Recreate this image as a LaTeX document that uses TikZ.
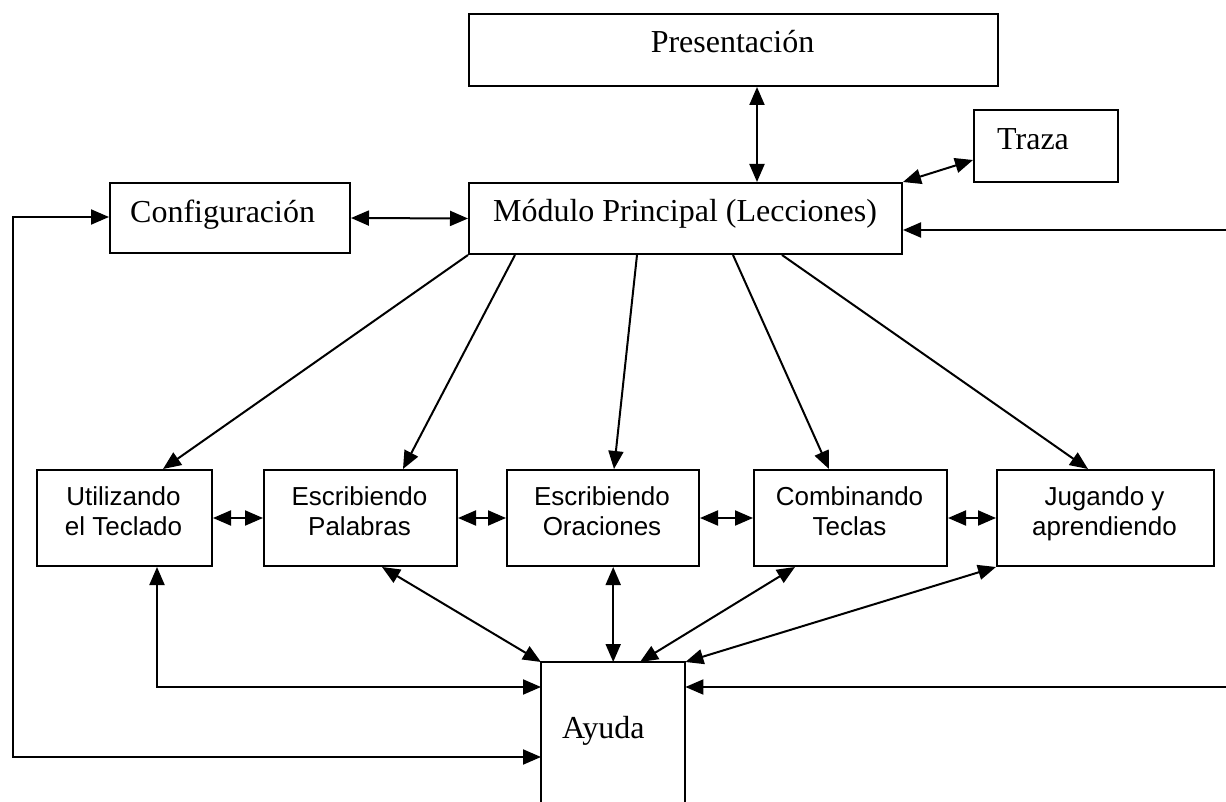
\documentclass[tikz,border=0pt]{standalone}
\usepackage{fontspec}
\setmainfont{Liberation Serif}
\newfontfamily\arialfont{Liberation Sans}
\usetikzlibrary{arrows.meta,calc}

\begin{document}
\begin{tikzpicture}[x=1pt,y=-1pt,
  box/.style={draw,line width=2pt,inner sep=0pt,anchor=north west},
  serif/.style={font=\fontsize{32}{36}\selectfont,inner sep=0pt},
  sans/.style={font=\arialfont\fontsize{26}{30}\selectfont,align=center,inner sep=0pt},
  link/.style={line width=2pt,-{Triangle[length=18pt,width=15pt]}},
  dlink/.style={line width=2pt,{Triangle[length=18pt,width=15pt]}-{Triangle[length=18pt,width=15pt]}},
  plain/.style={line width=2pt}]

\useasboundingbox[fill=white] (0,0) rectangle (1226,802);

% upper modules
\node[box,minimum width=529pt,minimum height=72pt] (pres) at (468,13) {};
\node[box,minimum width=144pt,minimum height=72pt] (traza) at (973,109) {};
\node[box,minimum width=240pt,minimum height=70pt] (cfg) at (109,182) {};
\node[box,minimum width=433pt,minimum height=71pt] (mod) at (468,182) {};

\node[serif,anchor=base] (tpres) at (732.5,53) {Presentación};
\node[serif,anchor=base west] (ttraza) at (997,150) {Traza};
\node[serif,anchor=base west] (tcfg) at (130,223) {Configuración};
\node[serif,anchor=base] (tmod) at (685,222) {Módulo Principal (Lecciones)};

% lesson modules
\node[box,minimum width=175pt,minimum height=96pt] (util) at (36,469) {};
\node[box,minimum width=193pt,minimum height=96pt] (pal) at (263,469) {};
\node[box,minimum width=192pt,minimum height=96pt] (ora) at (506,469) {};
\node[box,minimum width=193pt,minimum height=96pt] (comb) at (753,469) {};
\node[box,minimum width=217pt,minimum height=96pt] (jug) at (996,469) {};

% two-line labels: the base anchor sits on the second line
\node[sans,anchor=base] (tutil) at (123.5,535) {Utilizando\\el Teclado};
\node[sans,anchor=base] (tpal) at (359.5,535) {Escribiendo\\Palabras};
\node[sans,anchor=base] (tora) at (602,535) {Escribiendo\\Oraciones};
\node[sans,anchor=base] (tcomb) at (849.5,535) {Combinando\\Teclas};
\node[sans,anchor=base] (tjug) at (1104.5,535) {Jugando y\\aprendiendo};

% help module, open at the bottom
\node[inner sep=0pt,minimum width=144pt,minimum height=140pt,anchor=north west] (ayuda) at (541,662) {};
\draw[plain] (ayuda.south west) -- (ayuda.north west) -- (ayuda.north east) -- (ayuda.south east);
\node[serif,anchor=base west] (tayuda) at (562,738) {Ayuda};

% free ends and bends
\coordinate (L1) at (13,217);
\coordinate (L2) at (13,757);
\coordinate (U1) at (157,687);
\coordinate (R1) at (1226,230);
\coordinate (R2) at (1226,687);

% top connections
\draw[dlink] ($(pres.south west)+(289,0)$) -- ($(mod.north west)+(289,0)$);
\draw[dlink] (mod.north east) -- ($(traza.south west)+(0,-23)$);
\draw[dlink] (cfg.east) -- (mod.west);
\draw[dlink] (cfg.west |- L1) -- (L1) -- (L2) -- (ayuda.west |- L2);
\draw[link] (R1) -- (mod.east |- R1);

% main module to lessons
\draw[link] (mod.south west) -- ($(util.north west)+(127,0)$);
\draw[link] ($(mod.south west)+(47,0)$) -- ($(pal.north west)+(140,0)$);
\draw[link] ($(mod.south west)+(169,0)$) -- ($(ora.north west)+(108,0)$);
\draw[link] ($(mod.south west)+(265,0)$) -- ($(comb.north west)+(76,0)$);
\draw[link] ($(mod.south west)+(314,0)$) -- ($(jug.north west)+(92,0)$);

% between lessons
\draw[dlink] (util.east) -- (pal.west);
\draw[dlink] (pal.east) -- (ora.west);
\draw[dlink] (ora.east) -- (comb.west);
\draw[dlink] (comb.east) -- (jug.west);

% lessons to help
\draw[dlink] (util.south -| U1) -- (U1) -- (ayuda.west |- U1);
\draw[dlink] ($(pal.south west)+(119,0)$) -- (ayuda.north west);
\draw[dlink] (ora.south -| ayuda.north) -- (ayuda.north);
\draw[dlink] ($(comb.south west)+(42,0)$) -- ($(ayuda.north west)+(99,0)$);
\draw[dlink] (jug.south west) -- (ayuda.north east);
\draw[link] (R2) -- (ayuda.east |- R2);
\end{tikzpicture}
\end{document}
